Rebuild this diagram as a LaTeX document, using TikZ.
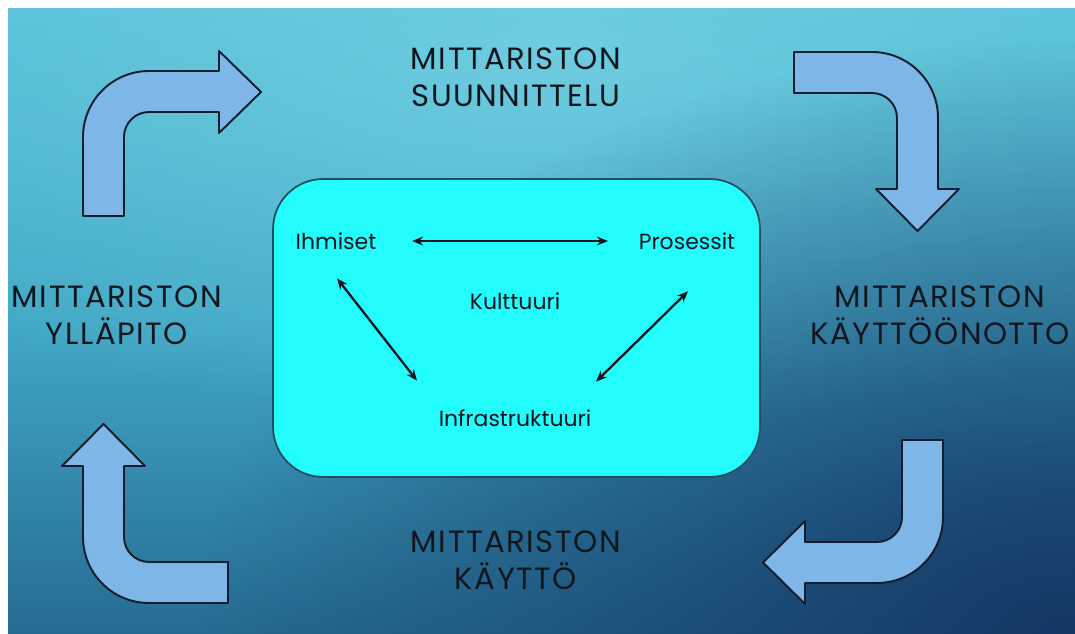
\documentclass[tikz,border=0pt]{standalone}
\usepackage{fontspec}
\setmainfont{Poppins}
\newfontfamily\phasefont[LetterSpace=5]{Poppins}
\usepackage{xcolor}
\definecolor{bgTop}{RGB}{82,190,213}
\definecolor{bgMid}{RGB}{66,168,198}
\definecolor{bgBot}{RGB}{38,108,146}
\definecolor{bgDeep}{RGB}{20,55,100}
\definecolor{bgGlow}{RGB}{135,218,234}
\definecolor{turn}{RGB}{126,182,232}
\definecolor{turnEdge}{RGB}{18,30,48}
\definecolor{core}{RGB}{34,252,252}
\definecolor{coreEdge}{RGB}{30,78,96}
\definecolor{ink}{RGB}{16,22,30}
\usetikzlibrary{positioning,arrows.meta,calc,fadings}
\tikzfading[name=glowfade, inner color=transparent!45, outer color=transparent!100]
\tikzfading[name=cornerfade, inner color=transparent!0, outer color=transparent!100]

\begin{document}
\begin{tikzpicture}[x=0.02cm, y=-0.02cm,
  phase/.style={font=\phasefont\fontsize{17.5}{21}\selectfont, text=ink, align=center, inner sep=0pt},
  pillar/.style={font=\fontsize{12.5}{15}\selectfont, text=ink, inner sep=2pt},
  turnarr/.style={draw=turnEdge, fill=turn, line width=1.1pt, line join=round},
  dblarr/.style={arrows={Stealth[length=2.2mm,width=1.8mm]-Stealth[length=2.2mm,width=1.8mm]}, line width=1.3pt, ink}]
% slide background
\useasboundingbox (0,0) rectangle (1075,634);
\fill[white] (0,0) rectangle (1075,634);
\shade[top color=bgTop, bottom color=bgBot, middle color=bgMid] (8,9) rectangle (1075,634);
\begin{scope}
  \clip (8,9) rectangle (1075,634);
  \fill[bgGlow, path fading=glowfade] (560,50) ellipse [x radius=900, y radius=380];
  \fill[bgDeep, path fading=cornerfade] (1075,640) ellipse [x radius=880, y radius=600];
\end{scope}
% bent arrows round the cycle
\draw[turnarr] (83,216) -- (83,137) arc[start angle=180, end angle=270, radius=66] -- (219,71)
  -- (219,51) -- (261,92) -- (219,133) -- (219,112) -- (149,112) arc[start angle=270, end angle=180, radius=25] -- (124,216) -- cycle;
\draw[turnarr] (794,52) -- (872,52) arc[start angle=270, end angle=360, radius=66] -- (938,189)
  -- (959,189) -- (917.5,231) -- (876,189) -- (897,189) -- (897,118) arc[start angle=0, end angle=-90, radius=25] -- (794,93) -- cycle;
\draw[turnarr] (902,440) -- (943,440) -- (943,517) arc[start angle=0, end angle=90, radius=66] -- (805,583)
  -- (805,604) -- (763,562.5) -- (805,521) -- (805,542) -- (877,542) arc[start angle=90, end angle=0, radius=25] -- cycle;
\draw[turnarr] (228,603) -- (149,603) arc[start angle=90, end angle=180, radius=66] -- (83,466)
  -- (62,466) -- (103.5,424) -- (145,466) -- (124,466) -- (124,537) arc[start angle=180, end angle=90, radius=25] -- (228,562) -- cycle;
% phases
\node[phase] (plan) at (516,77) {MITTARISTON\\SUUNNITTELU};
\node[phase] (deploy) at (940,315) {MITTARISTON\\KÄYTTÖÖNOTTO};
\node[phase] (use) at (516,560) {MITTARISTON\\KÄYTTÖ};
\node[phase] (upkeep) at (117,315) {MITTARISTON\\YLLÄPITO};
% culture box
\node[draw=coreEdge, fill=core, rounded corners=1cm, line width=1pt,
      minimum width=9.74cm, minimum height=5.96cm] (core) at (516.5,328) {};
\node[pillar] (ihm) at (336,241) {Ihmiset};
\node[pillar] (pros) at (687,241) {Prosessit};
\node[pillar] (kult) at (515,301) {Kulttuuri};
\node[pillar] (infra) at (515,418) {Infrastruktuuri};
\draw[dblarr, shorten <=0.64cm, shorten >=0.54cm] (ihm) -- (pros);
\draw[dblarr] ($(ihm.south)+(1,25)$) -- ($(infra.north)+(-98,-25)$);
\draw[dblarr] ($(pros.south)+(1,38)$) -- ($(infra.north)+(81,-24)$);
\end{tikzpicture}
\end{document}
